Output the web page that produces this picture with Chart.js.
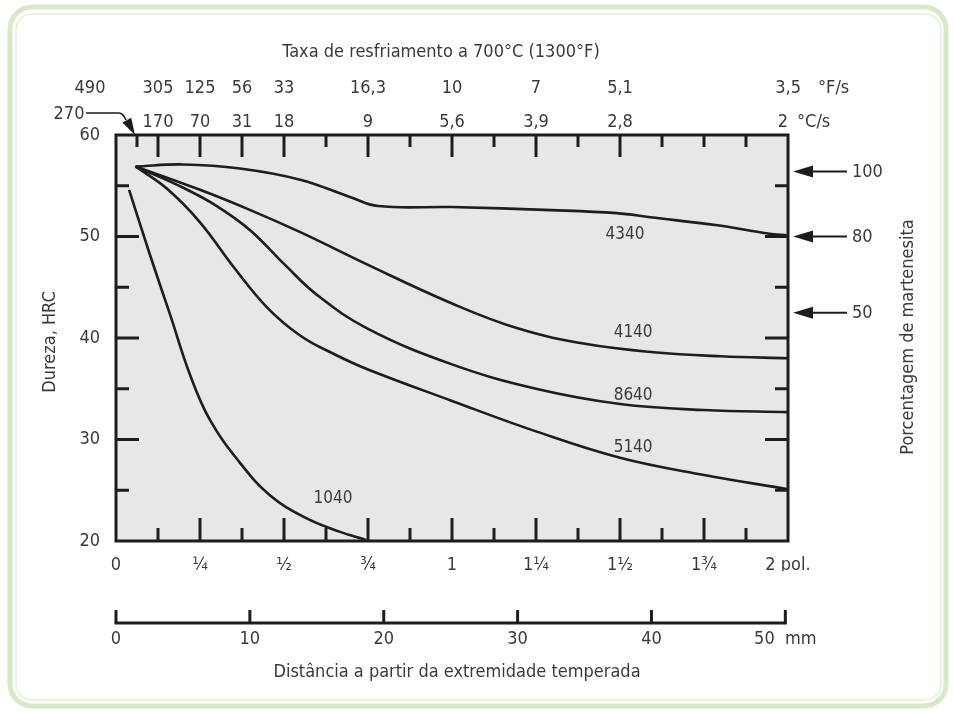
<!DOCTYPE html>
<html>
<head>
<meta charset="utf-8">
<script src="https://cdn.jsdelivr.net/npm/chart.js@4/dist/chart.umd.min.js"></script>
<style>
  html, body { margin: 0; padding: 0; background: #fff; }
</style>
</head>
<body>
<canvas id="grafico_jominy" width="953" height="712"></canvas>
<script>
let ctx = document.getElementById('grafico_jominy')

// Eixos
const polTicks = [0, 0.25, 0.5, 0.75, 1, 1.25, 1.5, 1.75, 2]
const polLabels = ['0', '¼', '½', '¾', '1', '1¼', '1½', '1¾', '2 pol.']
const mmTicks = [0, 10, 20, 30, 40, 50]
const mmLabels = ['0', '10', '20', '30', '40', '50  mm']
const hrcTicks = [20, 30, 40, 50, 60]

// Taxa de resfriamento (posição em pol.)
const taxaPos = [1/16, 1/8, 1/4, 3/8, 1/2, 3/4, 1, 1.25, 1.5, 2]
const taxaF = ['490', '305', '125', '56', '33', '16,3', '10', '7', '5,1', '3,5']
const taxaC = ['270', '170', '70', '31', '18', '9', '5,6', '3,9', '2,8', '2']

// Porcentagem de martensita
const martensita = ['100', '80', '50']
const martensitaHRC = [56.4, 50, 42.5]

// Curvas (distância em pol., dureza HRC)
const x1040 = [0.039, 0.101, 0.161, 0.22, 0.28, 0.369, 0.458, 0.563, 0.667, 0.744]
const y1040 = [54.6, 48.2, 42.3, 36.4, 31.9, 27.7, 24.5, 22.3, 20.9, 20.1]
const x5140 = [0.058, 0.152, 0.25, 0.35, 0.45, 0.55, 0.65, 0.75, 1.0, 1.25, 1.5, 1.75, 2.0]
const y5140 = [56.9, 54.7, 51.4, 47.0, 43.0, 40.2, 38.4, 36.9, 33.8, 30.8, 28.2, 26.5, 25.1]
const x8640 = [0.058, 0.2, 0.3, 0.4, 0.5, 0.6, 0.75, 1.0, 1.25, 1.5, 1.75, 2.0]
const y8640 = [56.9, 54.8, 53.0, 50.6, 47.3, 44.2, 40.9, 37.4, 35.0, 33.5, 32.9, 32.7]
const x4140 = [0.058, 0.25, 0.4, 0.55, 0.75, 1.0, 1.2, 1.4, 1.6, 1.8, 2.0]
const y4140 = [56.9, 54.6, 52.6, 50.4, 47.2, 43.4, 40.9, 39.4, 38.6, 38.2, 38.0]
const x4340 = [0.058, 0.2, 0.369, 0.548, 0.696, 0.78, 1.0, 1.295, 1.49, 1.59, 1.79, 1.94, 2.0]
const y4340 = [56.9, 57.1, 56.7, 55.6, 53.9, 53.0, 52.9, 52.6, 52.3, 51.9, 51.1, 50.3, 50.1]

const acos = ['1040', '5140', '8640', '4140', '4340']
const rotuloX = [0.646, 1.539, 1.539, 1.539, 1.515]
const rotuloY = [24.2, 29.2, 34.3, 40.5, 50.15]

const fonte = '"Liberation Sans Narrow", "DejaVu Sans Condensed", "Arial Narrow", sans-serif'
const corTexto = '#3a3a3a'
const corLinha = '#1e1c1d'

Chart.defaults.font.family = fonte
Chart.defaults.font.size = 18
Chart.defaults.color = corTexto

function pontos(xs, ys) {
    return xs.map((v, i) => ({ x: v, y: ys[i] }))
}

const series = [[x1040, y1040], [x5140, y5140], [x8640, y8640], [x4140, y4140], [x4340, y4340]]

const data = {
    datasets: series.map((s, i) => ({
        label: acos[i],
        data: pontos(s[0], s[1]),
        borderColor: corLinha,
        borderWidth: 2.6,
        pointRadius: 0,
        fill: false,
        tension: 0.4
    }))
}

function linha(c, x1, y1, x2, y2) {
    c.beginPath()
    c.moveTo(x1, y1)
    c.lineTo(x2, y2)
    c.stroke()
}

function seta(c, tx, ty, dx, dy, comp, larg) {
    const n = Math.hypot(dx, dy)
    const ux = dx / n, uy = dy / n
    const bx = tx - ux * comp, by = ty - uy * comp
    c.beginPath()
    c.moveTo(tx, ty)
    c.lineTo(bx - uy * larg, by + ux * larg)
    c.lineTo(bx + uy * larg, by - ux * larg)
    c.closePath()
    c.fill()
}

const desenho = {
    id: 'desenho',
    beforeDraw(chart) {
        const c = chart.ctx, a = chart.chartArea
        c.save()
        c.fillStyle = '#fff'
        c.fillRect(0, 0, chart.width, chart.height)
        // moldura verde
        c.strokeStyle = '#d9e8c6'
        c.lineWidth = 5
        c.beginPath()
        c.roundRect(10, 7, 936, 699, 22)
        c.stroke()
        c.strokeStyle = '#e3eed7'
        c.lineWidth = 1.5
        c.beginPath()
        c.roundRect(16, 14, 925, 686, 16)
        c.stroke()
        // fundo cinza
        c.fillStyle = '#e6e7e8'
        c.fillRect(a.left, a.top, a.right - a.left, a.bottom - a.top)
        c.restore()
    },
    afterDatasetsDraw(chart) {
        const c = chart.ctx, a = chart.chartArea
        const x = chart.scales.x, y = chart.scales.y, mm = chart.scales.mm
        c.save()
        c.strokeStyle = corLinha
        c.fillStyle = corLinha
        c.lineWidth = 3
        c.strokeRect(a.left, a.top, a.right - a.left, a.bottom - a.top)

        // marcas inferiores
        for (let k = 1; k < 16; k++) {
            const px = x.getPixelForValue(k / 8)
            linha(c, px, a.bottom, px, a.bottom - (k % 2 ? 13 : 23))
        }
        // marcas superiores
        for (let k = 1; k < 32; k++) {
            const v = k / 16
            const longa = taxaPos.indexOf(v) > 0 && v < 2
            const curta = v === 1/16 || (k % 2 === 0 && !longa)
            if (!longa && !curta) continue
            const px = x.getPixelForValue(v)
            linha(c, px, a.top, px, a.top + (longa ? 22 : 12))
        }
        // marcas laterais
        for (let v = 25; v < 60; v += 5) {
            const py = y.getPixelForValue(v)
            const len = v % 10 === 0 ? 23 : 13
            linha(c, a.left, py, a.left + len, py)
            linha(c, a.right, py, a.right - len, py)
        }

        // escala em mm
        const yMm = 623
        linha(c, mm.getPixelForValue(0) - 1.5, yMm, mm.getPixelForValue(50) + 1.5, yMm)
        mmTicks.forEach(v => {
            const px = mm.getPixelForValue(v)
            linha(c, px, yMm, px, yMm - 13)
        })

        c.fillStyle = corTexto
        c.font = '18px ' + fonte
        c.textAlign = 'center'
        c.textBaseline = 'middle'
        mmTicks.forEach((v, i) => {
            c.fillText(mmLabels[i], mm.getPixelForValue(v), 639)
        })

        // taxas de resfriamento
        taxaPos.forEach((v, i) => {
            const px = x.getPixelForValue(v)
            if (i === 0) {
                c.fillText(taxaF[i], px - 47, 88)
                c.fillText(taxaC[i], px - 68, 114)
            } else if (i === taxaPos.length - 1) {
                c.textAlign = 'right'
                c.fillText(taxaF[i], px + 13, 88)
                c.fillText(taxaC[i], px, 122)
                c.textAlign = 'left'
                c.fillText('°F/s', px + 30, 88)
                c.fillText('°C/s', px + 9, 122)
                c.textAlign = 'center'
            } else {
                c.fillText(taxaF[i], px, 88)
                c.fillText(taxaC[i], px, 122)
            }
        })
        // seta do 270
        const tx = x.getPixelForValue(1/16) - 2
        c.strokeStyle = corLinha
        c.fillStyle = corLinha
        c.lineWidth = 1.6
        c.beginPath()
        c.moveTo(86, 113)
        c.lineTo(119, 113)
        c.quadraticCurveTo(123, 113, 126, 120)
        c.stroke()
        seta(c, tx, a.top, 0.55, 1, 17, 5)

        // porcentagem de martensita
        c.lineWidth = 2
        martensitaHRC.forEach((v, i) => {
            const py = y.getPixelForValue(v)
            c.fillStyle = corLinha
            seta(c, a.right + 5, py, -1, 0, 20, 6)
            linha(c, a.right + 20, py, a.right + 59, py)
            c.fillStyle = corTexto
            c.textAlign = 'left'
            c.fillText(martensita[i], a.right + 64, py + 1)
        })

        // rótulos das curvas
        c.fillStyle = corTexto
        c.textAlign = 'center'
        c.font = '17px ' + fonte
        acos.forEach((n, i) => {
            c.fillText(n, x.getPixelForValue(rotuloX[i]), y.getPixelForValue(rotuloY[i]))
        })

        // títulos
        c.font = '18px ' + fonte
        c.fillText('Taxa de resfriamento a 700°C (1300°F)', 441, 52)
        c.fillText('Distância a partir da extremidade temperada', 457, 672)
        c.save()
        c.translate(50, 342)
        c.rotate(-Math.PI / 2)
        c.fillText('Dureza, HRC', 0, 0)
        c.restore()
        c.save()
        c.translate(908, 337)
        c.rotate(-Math.PI / 2)
        c.fillText('Porcentagem de martenesita', 0, 0)
        c.restore()
        c.restore()
    }
}

const config = {
    type: 'line',
    data,
    options: {
        responsive: false,
        animation: false,
        layout: { padding: { left: 76, right: 165, top: 135, bottom: 141 } },
        plugins: { legend: { display: false }, tooltip: { enabled: false } },
        scales: {
            x: {
                type: 'linear',
                min: 0,
                max: 2,
                afterBuildTicks: s => { s.ticks = polTicks.map(v => ({ value: v })) },
                afterFit: s => { s.height = 30 },
                ticks: {
                    callback: (v) => polLabels[polTicks.indexOf(v)],
                    maxRotation: 0,
                    autoSkip: false,
                    padding: 14,
                    color: corTexto
                },
                grid: { display: false, drawTicks: false },
                border: { display: false }
            },
            mm: {
                type: 'linear',
                axis: 'x',
                display: false,
                min: 0,
                max: 50.2
            },
            y: {
                min: 20,
                max: 60,
                afterBuildTicks: s => { s.ticks = hrcTicks.map(v => ({ value: v })) },
                afterFit: s => { s.width = 40 },
                ticks: { padding: 16, color: corTexto },
                grid: { display: false, drawTicks: false },
                border: { display: false }
            }
        }
    },
    plugins: [desenho]
}

const graph = new Chart(ctx, config)
</script>
</body>
</html>
